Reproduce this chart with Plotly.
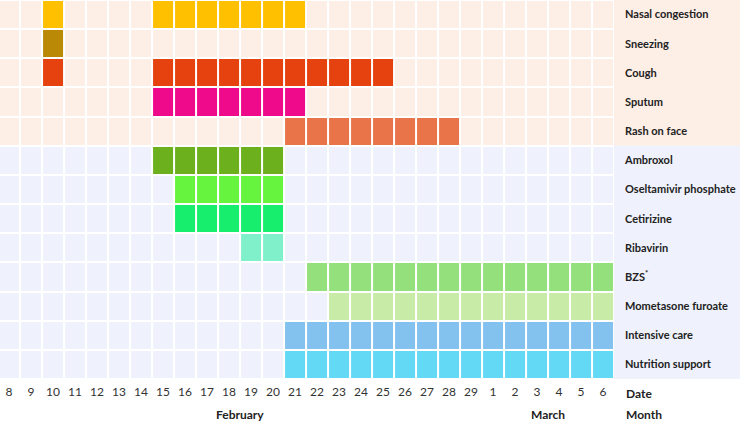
import plotly.graph_objects as go

# ---- data ----
feb_days = list(range(8, 30))
mar_days = list(range(1, 7))
date_keys = [f"Feb {d}" for d in feb_days] + [f"Mar {d}" for d in mar_days]
date_labels = [str(d) for d in feb_days] + [str(d) for d in mar_days]

symptom_rows = ["Nasal congestion", "Sneezing", "Cough", "Sputum", "Rash on face"]
treatment_rows = ["Ambroxol", "Oseltamivir phosphate", "Cetirizine", "Ribavirin",
                  "BZS<sup>*</sup>", "Mometasone furoate", "Intensive care", "Nutrition support"]
rows = symptom_rows + treatment_rows

row_colors = ["#FFC000", "#BA8A06", "#E5420F", "#EE0A8A", "#E97449",
              "#6DB01E", "#66F43E", "#18EE6E", "#80F0CA",
              "#94E07C", "#C8EBA8", "#83C1EE", "#63D9F5"]

periods = [
    [("Feb 10", "Feb 10"), ("Feb 15", "Feb 21")],
    [("Feb 10", "Feb 10")],
    [("Feb 10", "Feb 10"), ("Feb 15", "Feb 25")],
    [("Feb 15", "Feb 21")],
    [("Feb 21", "Feb 28")],
    [("Feb 15", "Feb 20")],
    [("Feb 16", "Feb 20")],
    [("Feb 16", "Feb 20")],
    [("Feb 19", "Feb 20")],
    [("Feb 22", "Mar 6")],
    [("Feb 23", "Mar 6")],
    [("Feb 21", "Mar 6")],
    [("Feb 21", "Mar 6")],
]

months = ["February", "March"]
month_centers = [("Feb 18", "Feb 19"), ("Mar 3", "Mar 4")]

bg_symptom = "#FDEEE6"
bg_treat = "#EFF2FC"

# ---- build matrix ----
idx = {k: i for i, k in enumerate(date_keys)}
z = []
for r, name in enumerate(rows):
    base = 0 if name in symptom_rows else 1
    line = [base] * len(date_keys)
    for s, e in periods[r]:
        for c in range(idx[s], idx[e] + 1):
            line[c] = r + 2
    z.append(line)

palette = [bg_symptom, bg_treat] + row_colors
n = len(palette)
cs = []
for k, col in enumerate(palette):
    cs.append([k / n, col])
    cs.append([(k + 1) / n, col])

fig = go.Figure(go.Heatmap(
    z=z, x=list(range(len(date_keys))), y=list(range(len(rows))),
    colorscale=cs, zmin=-0.5, zmax=n - 0.5, showscale=False,
    xgap=2, ygap=2, hoverinfo="skip"))

FONT = "Lato, 'Open Sans', sans-serif"

# label-area background bands
fig.add_shape(type="rect", xref="paper", yref="y", x0=1, x1=1.3,
              y0=-0.5, y1=len(symptom_rows) - 0.5, fillcolor=bg_symptom,
              line_width=0, layer="below")
fig.add_shape(type="rect", xref="paper", yref="y", x0=1, x1=1.3,
              y0=len(symptom_rows) - 0.5, y1=len(rows) - 0.5, fillcolor=bg_treat,
              line_width=0, layer="below")

# month labels
for m, (a, b) in zip(months, month_centers):
    fig.add_annotation(x=(idx[a] + idx[b]) / 2, y=0, xref="x", yref="paper",
                       text=f"<b>{m}</b>", showarrow=False, yanchor="middle",
                       yshift=-35, font=dict(family=FONT, size=12, color="#222"))
fig.add_annotation(x=1, y=0, xref="paper", yref="paper", text="<b>Date</b>",
                   showarrow=False, xanchor="left", yanchor="middle", xshift=10,
                   yshift=-14, font=dict(family=FONT, size=12, color="#222"))
fig.add_annotation(x=1, y=0, xref="paper", yref="paper", text="<b>Month</b>",
                   showarrow=False, xanchor="left", yanchor="middle", xshift=10,
                   yshift=-35, font=dict(family=FONT, size=12, color="#222"))

fig.update_xaxes(range=[-0.41, len(date_keys) - 0.5], tickvals=list(range(len(date_keys))),
                 ticktext=date_labels, showgrid=False, zeroline=False,
                 tickfont=dict(family=FONT, size=12, color="#333"), ticks="",
                 ticklabelstandoff=4)
fig.update_yaxes(range=[len(rows) - 0.5, -0.5], tickvals=list(range(len(rows))),
                 ticktext=[f"<b>{r}</b>" for r in rows], side="right",
                 showgrid=False, zeroline=False, ticks="", ticklabelstandoff=10,
                 tickfont=dict(family=FONT, size=11, color="#222"))

fig.update_layout(width=740, height=421, margin=dict(l=0, r=126, t=0, b=42),
                  plot_bgcolor="white", paper_bgcolor="white")

fig.write_html("out.html", config={"displayModeBar": False},
               post_script="document.body.style.margin='0';")
